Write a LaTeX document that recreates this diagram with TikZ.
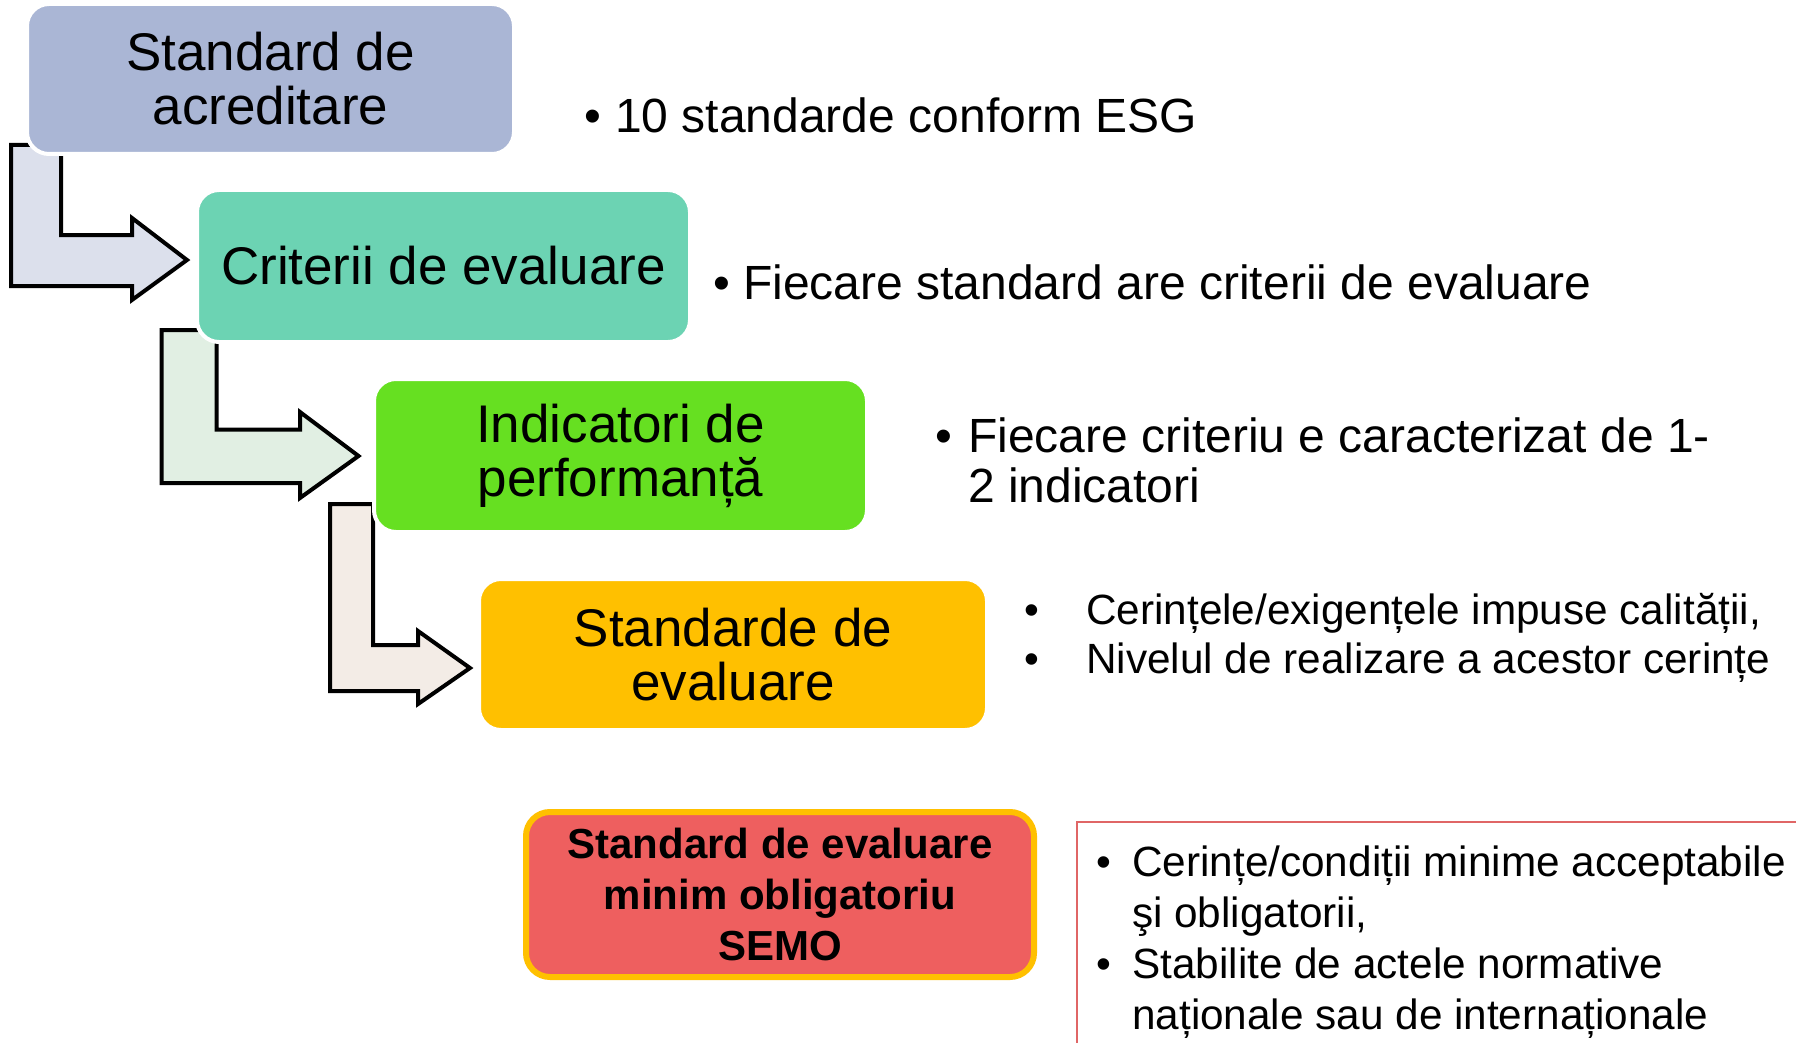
\documentclass[tikz,border=0pt]{standalone}
\usepackage{fontspec}
\setmainfont{Liberation Sans}
\definecolor{cA}{HTML}{AAB6D5}
\definecolor{cB}{HTML}{6CD3B3}
\definecolor{cC}{HTML}{66E021}
\definecolor{cD}{HTML}{FFC000}
\definecolor{cE}{HTML}{EE5F5F}
\definecolor{aA}{HTML}{DCE0EC}
\definecolor{aB}{HTML}{E1EFE3}
\definecolor{aC}{HTML}{F3ECE6}
\definecolor{redline}{HTML}{E06666}
\begin{document}
\begin{tikzpicture}[x=1pt,y=-1pt,
  bentarrow/.style={draw=black,line width=4pt,line join=miter},
  stagebox/.style={rounded corners=22pt,draw=white,line width=4pt,inner sep=0pt,align=center,
    font=\fontsize{53}{54}\selectfont},
  semobox/.style={rounded corners=24pt,draw=cD,fill=cE,line width=6pt,inner sep=0pt,align=center,
    font=\fontsize{42}{51}\selectfont\bfseries},
  bigtxt/.style={anchor=base west,inner sep=0pt,font=\fontsize{48}{50}\selectfont},
  smalltxt/.style={anchor=base west,inner sep=0pt,font=\fontsize{42.3}{50}\selectfont}]
\useasboundingbox (0,0) rectangle (1796,1043);
\fill[white] (0,0) rectangle (1796,1043);

% bent arrows
\draw[bentarrow,fill=aA] (11,145) -- (11,286) -- (132,286) -- (132,300) -- (187,260) -- (132,218) -- (132,235) -- (61,235) -- (61,145) -- cycle;
\draw[bentarrow,fill=aB] (161.5,330) -- (161.5,483) -- (300,483) -- (300,498) -- (358.5,456) -- (300,412) -- (300,429.5) -- (216.5,429.5) -- (216.5,330) -- cycle;
\draw[bentarrow,fill=aC] (330,504) -- (330,691) -- (418,691) -- (418,704) -- (470,668) -- (418,631) -- (418,645) -- (373,645) -- (373,504) -- cycle;

% boxes
\node[stagebox,fill=cA,minimum width=487pt,minimum height=150pt] (acr) at (270.5,79) {Standard de\\acreditare};
\node[stagebox,fill=cB,minimum width=493pt,minimum height=152pt] (crit) at (443.5,266) {Criterii de evaluare};
\node[stagebox,fill=cC,minimum width=493pt,minimum height=153pt] (ind) at (620.5,455.5) {Indicatori de\\performanță};
\node[stagebox,fill=cD,minimum width=508pt,minimum height=151pt] (std) at (733,654.5) {Standarde de\\evaluare};
\node[semobox,minimum width=508pt,minimum height=165pt] (semo) at (780,894.5) {Standard de evaluare\\minim obligatoriu\\SEMO};

% red frame
\draw[redline,line width=1.5pt] (1800,822) -- (1077,822) -- (1077,1050);

% right texts
\node[bigtxt] (b1) at (584,133) {•};
\node[bigtxt] (t1) at (615,133) {10 standarde conform ESG};
\node[bigtxt] (b2) at (713,299) {•};
\node[bigtxt] (t2) at (743,299) {Fiecare standard are criterii de evaluare};
\node[bigtxt] (b3) at (935,452) {•};
\node[bigtxt] (t3a) at (968,452) {Fiecare criteriu e caracterizat de 1-};
\node[bigtxt] (t3b) at (968,502) {2 indicatori};
\node[smalltxt] (b4a) at (1024,624) {•};
\node[smalltxt] (t4a) at (1086,624) {Cerințele/exigențele impuse calității,};
\node[smalltxt] (b4b) at (1024,673) {•};
\node[smalltxt] (t4b) at (1086,673) {Nivelul de realizare a acestor cerințe};
\node[smalltxt] (b5a) at (1096,876) {•};
\node[smalltxt] (t5a) at (1132,876) {Cerințe/condiții minime acceptabile};
\node[smalltxt] (t5b) at (1132,927) {şi obligatorii,};
\node[smalltxt] (b5b) at (1096,978) {•};
\node[smalltxt] (t5c) at (1132,978) {Stabilite de actele normative};
\node[smalltxt] (t5d) at (1132,1029) {naționale sau de internaționale};
\end{tikzpicture}
\end{document}
